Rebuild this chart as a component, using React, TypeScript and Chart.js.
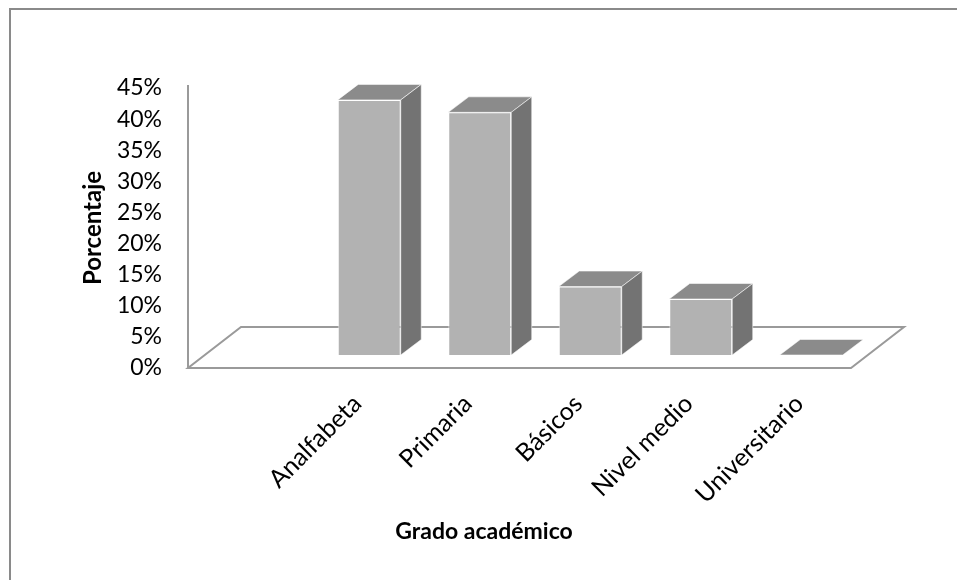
import React, { useEffect, useRef } from "react";
import { Chart, registerables } from "chart.js";

Chart.register(...registerables);

// Education level distribution (percent of respondents)
const categories: string[] = ["Analfabeta", "Primaria", "Básicos", "Nivel medio", "Universitario"];
const percentages: number[] = [41, 39, 11, 9, 0];
const yTicks: number[] = [0, 5, 10, 15, 20, 25, 30, 35, 40, 45];

const xTitle = "Grado académico";
const yTitle = "Porcentaje";

const FONT = 'Lato, "Noto Sans", sans-serif';
const TEXT_SIZE = 23;
const CAT_SIZE = 25;
const LINE_H = TEXT_SIZE * 1.2;

// Canvas geometry
const CANVAS_W = 946;
const CANVAS_H = 570;
const PLOT_TOP = 78;
const PLOT_H = 280;
const LEFT_AXIS_W = 192.5;
const RIGHT_GUTTER = 90.5;
const TITLE_CENTER = 522;
const TITLE_PAD_TOP = 10;
const TITLE_PAD_BOTTOM = CANVAS_H - TITLE_CENTER - LINE_H / 2;
const X_AXIS_H = CANVAS_H - (PLOT_TOP + PLOT_H) - (LINE_H + TITLE_PAD_TOP + TITLE_PAD_BOTTOM);
const Y_TITLE_CENTER = 82;

// Oblique projection of the floor and the columns
const FLOOR_DX = 53;
const FLOOR_DY = 41;
const BAR_INSET_X = 15.5;
const BAR_LIFT = 13;
const BAR_DX = 20.5;
const BAR_DY = 15.5;

const Y_MAX = yTicks[yTicks.length - 1];
const barAxisMin = -(BAR_LIFT / PLOT_H) * Y_MAX;
const barAxisMax = Y_MAX + barAxisMin;

const LINE_COLOR = "#9a9a9a";
const FRONT_COLOR = "#b2b2b2";
const TOP_COLOR = "#8b8b8b";
const SIDE_COLOR = "#737373";
const EDGE_COLOR = "rgba(255,255,255,0.55)";

const depthPlugin = {
  id: "depth3d",
  beforeDatasetsDraw(chart: any) {
    const { ctx, chartArea, scales } = chart;
    const y0 = scales.y.getPixelForValue(0);
    const fl = chartArea.left - BAR_INSET_X;
    const fr = chartArea.right - BAR_INSET_X;
    ctx.save();
    ctx.strokeStyle = LINE_COLOR;
    ctx.lineWidth = 2;
    ctx.lineJoin = "miter";
    ctx.beginPath();
    ctx.moveTo(fl, y0);
    ctx.lineTo(fr, y0);
    ctx.lineTo(fr + FLOOR_DX, y0 - FLOOR_DY);
    ctx.lineTo(fl + FLOOR_DX, y0 - FLOOR_DY);
    ctx.closePath();
    ctx.stroke();
    ctx.beginPath();
    ctx.moveTo(fl, chartArea.top - 3);
    ctx.lineTo(fl, y0);
    ctx.stroke();
    ctx.restore();
  },
  afterDatasetsDraw(chart: any) {
    const { ctx } = chart;
    const meta = chart.getDatasetMeta(0);
    const data = chart.data.datasets[0].data;
    ctx.save();
    ctx.lineWidth = 1;
    ctx.strokeStyle = EDGE_COLOR;
    meta.data.forEach((bar: any, i: number) => {
      if (data[i] == null) return;
      const { x, y, base, width } = bar.getProps(["x", "y", "base", "width"], true);
      const l = x - width / 2;
      const r = x + width / 2;
      // top face
      ctx.beginPath();
      ctx.moveTo(l, y);
      ctx.lineTo(l + BAR_DX, y - BAR_DY);
      ctx.lineTo(r + BAR_DX, y - BAR_DY);
      ctx.lineTo(r, y);
      ctx.closePath();
      ctx.fillStyle = TOP_COLOR;
      ctx.fill();
      ctx.stroke();
      // side face
      if (base - y > 0.5) {
        ctx.beginPath();
        ctx.moveTo(r, y);
        ctx.lineTo(r + BAR_DX, y - BAR_DY);
        ctx.lineTo(r + BAR_DX, base - BAR_DY);
        ctx.lineTo(r, base);
        ctx.closePath();
        ctx.fillStyle = SIDE_COLOR;
        ctx.fill();
        ctx.stroke();
      }
    });
    ctx.restore();
  },
};

export default function App() {
  const canvasRef = useRef<HTMLCanvasElement | null>(null);

  useEffect(() => {
    if (!canvasRef.current) return;
    const labels = ["", ...categories];
    const values = [null, ...percentages];
    const chart = new Chart(canvasRef.current, {
      type: "bar",
      data: {
        labels,
        datasets: [
          {
            data: values as any,
            yAxisID: "yb",
            backgroundColor: FRONT_COLOR,
            borderColor: EDGE_COLOR,
            borderWidth: 1,
            categoryPercentage: 1,
            barPercentage: 0.57,
          },
        ],
      },
      options: {
        responsive: false,
        animation: false,
        devicePixelRatio: 1,
        layout: { padding: { top: PLOT_TOP, left: 0, right: 0, bottom: 0 } },
        plugins: {
          legend: { display: false },
          tooltip: { enabled: false },
          title: {
            display: true,
            position: "bottom",
            text: xTitle,
            color: "#000",
            font: { family: FONT, size: TEXT_SIZE, weight: "bold" },
            padding: { top: TITLE_PAD_TOP, bottom: TITLE_PAD_BOTTOM },
          },
        },
        scales: {
          x: {
            type: "category",
            offset: true,
            grid: { display: false, drawTicks: false },
            border: { display: false },
            ticks: {
              autoSkip: false,
              minRotation: 45,
              maxRotation: 45,
              padding: 21,
              labelOffset: -12,
              color: "#000",
              font: { family: FONT, size: CAT_SIZE },
            },
            afterFit: (s: any) => {
              s.height = X_AXIS_H;
            },
          },
          y: {
            type: "linear",
            position: "left",
            min: 0,
            max: Y_MAX,
            grid: { display: false, drawTicks: false },
            border: { display: false },
            afterBuildTicks: (s: any) => {
              s.ticks = yTicks.map((v) => ({ value: v }));
            },
            ticks: {
              padding: 41.5,
              color: "#000",
              font: { family: FONT, size: TEXT_SIZE },
              callback: (v: any) => `${v}%`,
            },
            title: {
              display: true,
              text: yTitle,
              color: "#000",
              font: { family: FONT, size: TEXT_SIZE + 1, weight: "bold" },
              padding: { top: Y_TITLE_CENTER - (TEXT_SIZE + 1) * 0.6, bottom: 0 },
            },
            afterFit: (s: any) => {
              s.width = LEFT_AXIS_W;
            },
          },
          yb: {
            type: "linear",
            position: "right",
            min: barAxisMin,
            max: barAxisMax,
            grid: { display: false, drawTicks: false },
            border: { display: false },
            ticks: { display: false },
            afterFit: (s: any) => {
              s.width = RIGHT_GUTTER;
            },
          },
        },
      },
      plugins: [depthPlugin],
    });
    return () => chart.destroy();
  }, []);

  return (
    <div
      style={{
        position: "fixed",
        left: 9,
        top: 8,
        width: 948,
        height: 572,
        boxSizing: "border-box",
        borderTop: "2px solid #8a8a8a",
        borderLeft: "2px solid #8a8a8a",
        background: "#fff",
      }}
    >
      <canvas
        ref={canvasRef}
        width={CANVAS_W}
        height={CANVAS_H}
        style={{ display: "block", width: CANVAS_W, height: CANVAS_H }}
      />
    </div>
  );
}
